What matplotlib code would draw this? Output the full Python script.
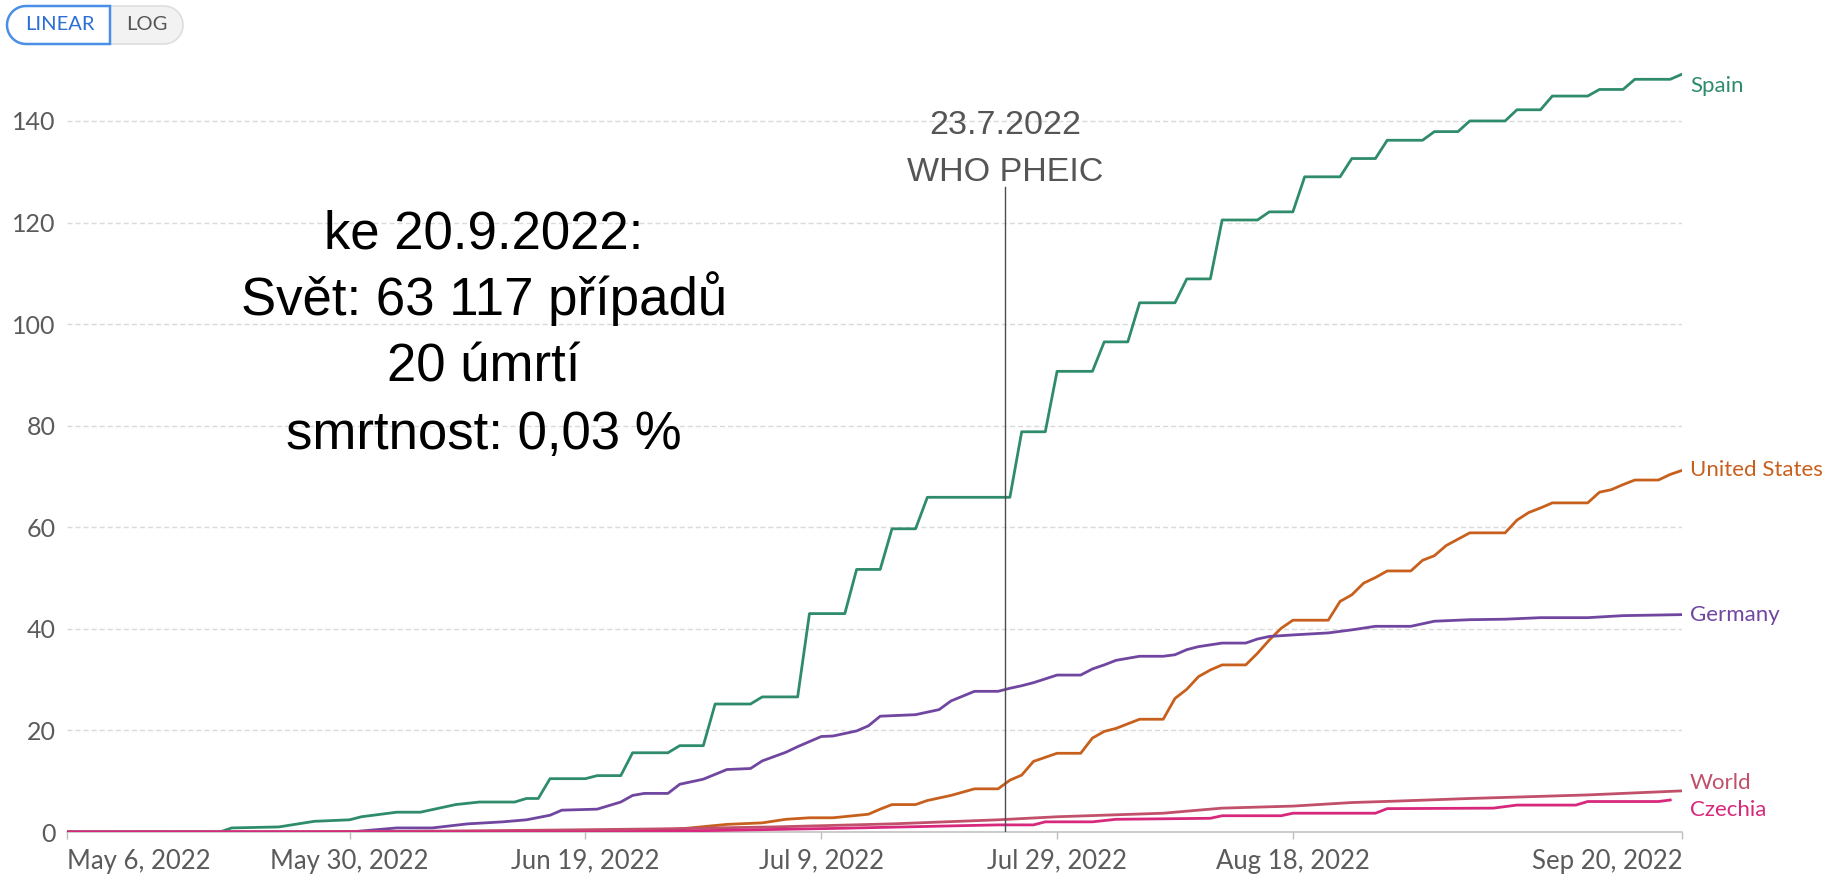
import matplotlib
matplotlib.use("Agg")
import matplotlib.pyplot as plt
import matplotlib.dates as mdates
from matplotlib.patches import Polygon
from matplotlib.transforms import IdentityTransform
import numpy as np
import pandas as pd

# cumulative confirmed monkeypox cases per million people
spain_dates = ["2022-05-06", "2022-05-19", "2022-05-20", "2022-05-24", "2022-05-27", "2022-05-30",
               "2022-05-31", "2022-06-03", "2022-06-05", "2022-06-08", "2022-06-10", "2022-06-13",
               "2022-06-14", "2022-06-15", "2022-06-16", "2022-06-19", "2022-06-20", "2022-06-22",
               "2022-06-23", "2022-06-26", "2022-06-27", "2022-06-29", "2022-06-30", "2022-07-03",
               "2022-07-04", "2022-07-07", "2022-07-08", "2022-07-11", "2022-07-12", "2022-07-14",
               "2022-07-15", "2022-07-17", "2022-07-18", "2022-07-25", "2022-07-26", "2022-07-28",
               "2022-07-29", "2022-08-01", "2022-08-02", "2022-08-04", "2022-08-05", "2022-08-08",
               "2022-08-09", "2022-08-11", "2022-08-12", "2022-08-15", "2022-08-16", "2022-08-18",
               "2022-08-19", "2022-08-22", "2022-08-23", "2022-08-25", "2022-08-26", "2022-08-29",
               "2022-08-30", "2022-09-01", "2022-09-02", "2022-09-05", "2022-09-06", "2022-09-08",
               "2022-09-09", "2022-09-12", "2022-09-13", "2022-09-15", "2022-09-16", "2022-09-19",
               "2022-09-20"]
spain_values = [0, 0, 0.8, 1.0, 2.1, 2.4, 3.0, 3.9, 3.9, 5.4,
                5.9, 5.9, 6.6, 6.6, 10.5, 10.5, 11.1, 11.1, 15.6, 15.6,
                17.0, 17.0, 25.2, 25.2, 26.6, 26.6, 43.0, 43.0, 51.7, 51.7,
                59.7, 59.7, 65.9, 65.9, 78.8, 78.8, 90.7, 90.7, 96.5, 96.5,
                104.2, 104.2, 108.9, 108.9, 120.5, 120.5, 122.1, 122.1, 129.0, 129.0,
                132.6, 132.6, 136.2, 136.2, 137.9, 137.9, 140.0, 140.0, 142.2, 142.2,
                144.9, 144.9, 146.2, 146.2, 148.2, 148.2, 149.2]

us_dates = ["2022-05-06", "2022-06-25", "2022-06-27", "2022-07-01", "2022-07-04", "2022-07-06",
            "2022-07-08", "2022-07-10", "2022-07-13", "2022-07-14", "2022-07-15", "2022-07-17",
            "2022-07-18", "2022-07-20", "2022-07-22", "2022-07-24", "2022-07-25", "2022-07-26",
            "2022-07-27", "2022-07-29", "2022-07-31", "2022-08-01", "2022-08-02", "2022-08-03",
            "2022-08-05", "2022-08-07", "2022-08-08", "2022-08-09", "2022-08-10", "2022-08-11",
            "2022-08-12", "2022-08-14", "2022-08-15", "2022-08-16", "2022-08-17", "2022-08-18",
            "2022-08-21", "2022-08-22", "2022-08-23", "2022-08-24", "2022-08-25", "2022-08-26",
            "2022-08-28", "2022-08-29", "2022-08-30", "2022-08-31", "2022-09-02", "2022-09-05",
            "2022-09-06", "2022-09-07", "2022-09-08", "2022-09-09", "2022-09-12", "2022-09-13",
            "2022-09-14", "2022-09-15", "2022-09-16", "2022-09-18", "2022-09-19", "2022-09-20"]
us_values = [0, 0, 0.6, 1.5, 1.8, 2.5, 2.8, 2.8, 3.5, 4.5,
             5.4, 5.4, 6.2, 7.2, 8.5, 8.5, 10.2, 11.2, 13.9, 15.5,
             15.5, 18.5, 19.8, 20.4, 22.2, 22.2, 26.3, 28.1, 30.6, 31.9,
             32.9, 32.9, 35.2, 37.8, 40.1, 41.7, 41.7, 45.4, 46.7, 49.0,
             50.1, 51.4, 51.4, 53.5, 54.4, 56.4, 58.9, 58.9, 61.4, 62.9,
             63.8, 64.8, 64.8, 66.9, 67.4, 68.4, 69.3, 69.3, 70.4, 71.2]

germany_dates = ["2022-05-06", "2022-05-30", "2022-06-03", "2022-06-06", "2022-06-09", "2022-06-12",
                 "2022-06-14", "2022-06-16", "2022-06-17", "2022-06-20", "2022-06-22", "2022-06-23",
                 "2022-06-24", "2022-06-26", "2022-06-27", "2022-06-29", "2022-07-01", "2022-07-03",
                 "2022-07-04", "2022-07-06", "2022-07-07", "2022-07-09", "2022-07-10", "2022-07-12",
                 "2022-07-13", "2022-07-14", "2022-07-17", "2022-07-19", "2022-07-20", "2022-07-22",
                 "2022-07-24", "2022-07-25", "2022-07-26", "2022-07-27", "2022-07-29", "2022-07-31",
                 "2022-08-01", "2022-08-02", "2022-08-03", "2022-08-05", "2022-08-07", "2022-08-08",
                 "2022-08-09", "2022-08-10", "2022-08-12", "2022-08-14", "2022-08-15", "2022-08-16",
                 "2022-08-18", "2022-08-21", "2022-08-23", "2022-08-25", "2022-08-28", "2022-08-30",
                 "2022-09-02", "2022-09-05", "2022-09-08", "2022-09-12", "2022-09-15", "2022-09-20"]
germany_values = [0, 0, 0.8, 0.8, 1.6, 2.0, 2.4, 3.3, 4.3, 4.5,
                  5.9, 7.2, 7.6, 7.6, 9.4, 10.4, 12.3, 12.5, 14.0, 15.7,
                  16.8, 18.8, 18.9, 19.9, 20.9, 22.8, 23.1, 24.1, 25.8, 27.7,
                  27.7, 28.3, 28.8, 29.4, 30.9, 30.9, 32.1, 32.9, 33.8, 34.6,
                  34.6, 34.9, 35.9, 36.5, 37.2, 37.2, 38.0, 38.5, 38.8, 39.2,
                  39.8, 40.5, 40.5, 41.5, 41.8, 41.9, 42.2, 42.2, 42.6, 42.8]

world_dates = ["2022-05-06", "2022-05-26", "2022-06-05", "2022-06-15", "2022-06-25", "2022-07-05",
               "2022-07-15", "2022-07-24", "2022-07-29", "2022-08-07", "2022-08-12", "2022-08-18",
               "2022-08-23", "2022-08-27", "2022-09-02", "2022-09-12", "2022-09-20"]
world_values = [0, 0.05, 0.15, 0.35, 0.6, 1.0, 1.6, 2.4, 3.0, 3.7, 4.7, 5.1, 5.8, 6.1, 6.6, 7.3, 8.1]

czechia_dates = ["2022-05-06", "2022-06-20", "2022-06-30", "2022-07-10", "2022-07-20", "2022-07-24",
                 "2022-07-27", "2022-07-28", "2022-08-01", "2022-08-03", "2022-08-11", "2022-08-12",
                 "2022-08-17", "2022-08-18", "2022-08-25", "2022-08-26", "2022-09-04", "2022-09-06",
                 "2022-09-11", "2022-09-12", "2022-09-18", "2022-09-19"]
czechia_values = [0, 0, 0.3, 0.7, 1.2, 1.4, 1.4, 2.0, 2.0, 2.5, 2.7, 3.2,
                  3.2, 3.7, 3.7, 4.6, 4.7, 5.3, 5.3, 6.0, 6.0, 6.3]

tick_dates = ["2022-05-06", "2022-05-30", "2022-06-19", "2022-07-09", "2022-07-29", "2022-08-18", "2022-09-20"]
tick_labels = ["May 6, 2022", "May 30, 2022", "Jun 19, 2022", "Jul 9, 2022", "Jul 29, 2022",
               "Aug 18, 2022", "Sep 20, 2022"]
y_ticks = [0, 20, 40, 60, 80, 100, 120, 140]

info_lines = ["ke 20.9.2022:", "Svět: 63 117 případů", "20 úmrtí", "smrtnost: 0,03 %"]
pheic_lines = ["23.7.2022", "WHO PHEIC"]

# name, dates, values, colour, label nudge (px)
series = [
    ("Spain", spain_dates, spain_values, "#2f8c6a", -12),
    ("United States", us_dates, us_values, "#c8601d", 0),
    ("Germany", germany_dates, germany_values, "#7046a0", 0),
    ("World", world_dates, world_values, "#c1506a", 8),
    ("Czechia", czechia_dates, czechia_values, "#d7287c", -10),
]

W, H = 1832, 875
fig = plt.figure(figsize=(W / 100, H / 100), dpi=100)
ax = fig.add_axes([66.6 / W, 43 / H, (1682 - 66.6) / W, 772 / H])

x_start = pd.Timestamp("2022-05-06")
x_end = pd.Timestamp("2022-09-20")

for name, d, v, color, nudge in series:
    ax.plot(pd.to_datetime(d), v, color=color, lw=2.0, solid_joinstyle="round", zorder=3)
    ax.annotate(name, xy=(x_end, v[-1]), xytext=(8, nudge), textcoords="offset pixels",
                ha="left", va="center", color=color, fontsize=16, family="Lato",
                annotation_clip=False)

ax.set_xlim(x_start, x_end)
ax.set_ylim(0, 152)

ax.set_xticks(pd.to_datetime(tick_dates))
ax.set_xticklabels(tick_labels)
xl = ax.get_xticklabels()
xl[0].set_ha("left")
xl[-1].set_ha("right")
ax.set_yticks(y_ticks)
ax.tick_params(axis="x", length=5, width=1, color="#bdbdbd", pad=7, labelsize=18.5, labelcolor="#5b5b5b")
ax.tick_params(axis="y", length=0, pad=8, labelsize=18, labelcolor="#5b5b5b")
for lab in ax.get_xticklabels() + ax.get_yticklabels():
    lab.set_family("Lato")

for s in ["top", "right", "left"]:
    ax.spines[s].set_visible(False)
ax.spines["bottom"].set_color("#bdbdbd")
ax.spines["bottom"].set_linewidth(1.1)

for yv in y_ticks[1:]:
    ax.axhline(yv, color="#dadada", lw=1.0, linestyle=(0, (3.6, 2.2)), zorder=1)

# WHO PHEIC marker
pheic_date = pd.Timestamp("2022-07-24 15:00")
ax.axvline(pheic_date, ymin=0, ymax=127 / 152, color="#4d4d4d", lw=1.0, zorder=4)
pheic_px = ax.transData.transform((mdates.date2num(pheic_date), 0))[0]
for i, line in enumerate(pheic_lines):
    fig.text(pheic_px, H - 134 - i * 46.7, line, transform=IdentityTransform(),
             ha="center", va="baseline", fontsize=24.5, color="#555555", family="Liberation Sans")

# summary text block
for i, line in enumerate(info_lines):
    fig.text(484, H - 248.6 - i * 66.7, line, transform=IdentityTransform(),
             ha="center", va="baseline", fontsize=38, color="black", family="Liberation Sans")


# LINEAR / LOG toggle
def pill(x0, x1, top, bottom, round_left, round_right, **kw):
    r = (bottom - top) / 2
    cy = H - (top + bottom) / 2
    pts = []
    if round_left:
        th = np.linspace(np.pi / 2, 3 * np.pi / 2, 24)
        pts += list(zip(x0 + r + r * np.cos(th), cy + r * np.sin(th)))
    else:
        pts += [(x0, cy + r), (x0, cy - r)]
    if round_right:
        th = np.linspace(-np.pi / 2, np.pi / 2, 24)
        pts += list(zip(x1 - r + r * np.cos(th), cy + r * np.sin(th)))
    else:
        pts += [(x1, cy - r), (x1, cy + r)]
    fig.add_artist(Polygon(pts, closed=True, transform=IdentityTransform(), **kw))


pill(7, 183, 6, 44, True, True, facecolor="#f2f2f2", edgecolor="#dedede", lw=1.2)
pill(7, 110, 6, 44, True, False, facecolor="white", edgecolor="#4a8fe6", lw=1.8)
fig.text(60, H - 25, "LINEAR", transform=IdentityTransform(), ha="center", va="center",
         fontsize=14.5, color="#2c6fd4", family="Lato")
fig.text(147, H - 25, "LOG", transform=IdentityTransform(), ha="center", va="center",
         fontsize=14.5, color="#555555", family="Lato")

fig.savefig("out.png", dpi=100, facecolor="white")
